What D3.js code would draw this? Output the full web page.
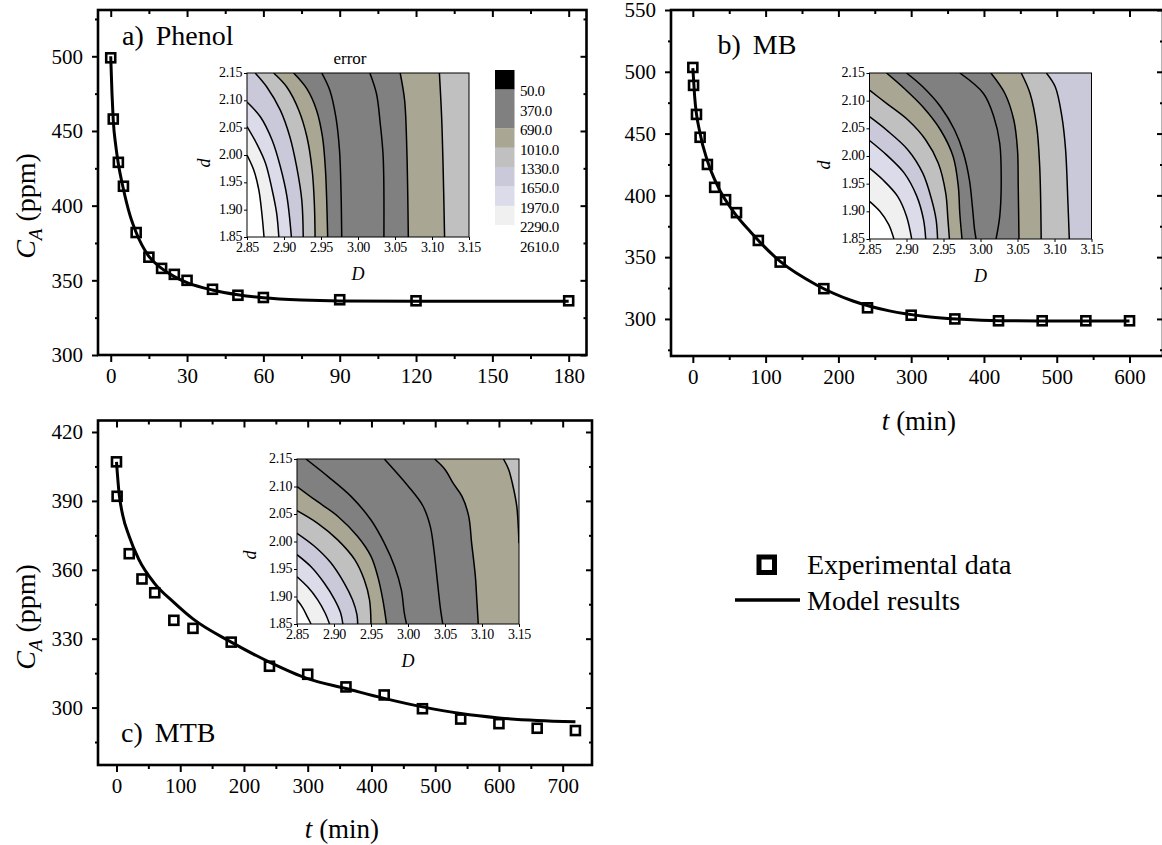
<!DOCTYPE html>
<html>
<head>
<meta charset="utf-8">
<script src="https://cdn.jsdelivr.net/npm/d3@7"></script>
<style>
  body { margin: 0; background: #fff; }
</style>
</head>
<body>
<svg id="vis" width="1162" height="845"></svg>
<script>
// a) Phenol
var phenolTime = [0, 1, 3, 5, 10, 15, 20, 25, 30, 40, 50, 60, 90, 120, 180];
var phenolConc = [499, 458, 429, 413, 382, 365.5, 358, 354, 350, 344, 340, 338.5, 337, 336.3, 336.3];
var phenolModelTime = [0, 0.5, 1, 2, 3, 5, 7.5, 10, 15, 20, 25, 30, 40, 50, 60, 75, 90, 120, 150, 180];
var phenolModelConc = [500, 475, 457, 440, 428, 411, 394, 382, 366, 358, 352.5, 348.5, 343.5, 340.3, 338.3, 336.8, 336.2, 336, 336, 336];
var phenolTimeRange = [-5, 187];
var phenolConcRange = [300, 531];
var phenolTimeTicks = [0, 30, 60, 90, 120, 150, 180];
var phenolTimeMinor = [15, 45, 75, 105, 135, 165];
var phenolConcTicks = [300, 350, 400, 450, 500];
var phenolConcMinor = [325, 375, 425, 475, 525];

// b) MB
var mbTime = [0, 1, 5, 10, 20, 30, 45, 60, 90, 120, 180, 240, 300, 360, 420, 480, 540, 600];
var mbConc = [503.5, 489, 465.5, 447, 425, 406.5, 396.5, 386, 363.5, 346, 324.5, 309, 303, 300, 298.5, 298.5, 298.5, 298.5];
var mbModelTime = [0, 2.5, 10, 20, 35, 55, 80, 120, 170, 220, 270, 320, 370, 420, 480, 540, 600];
var mbModelConc = [503, 480, 450, 428, 406.5, 387.5, 370, 346.5, 327.5, 314.5, 306.5, 302, 299.7, 298.6, 298.4, 298.4, 298.4];
var mbTimeRange = [-30, 646];
var mbConcRange = [270, 550];
var mbTimeTicks = [0, 100, 200, 300, 400, 500, 600];
var mbTimeMinor = [50, 150, 250, 350, 450, 550];
var mbConcTicks = [300, 350, 400, 450, 500, 550];
var mbConcMinor = [275, 325, 375, 425, 475, 525];

// c) MTB
var mtbTime = [0, 1, 20, 40, 60, 90, 120, 180, 240, 300, 360, 420, 480, 540, 600, 660, 720];
var mtbConc = [407, 392, 367, 356, 350, 338, 334.5, 328.5, 318, 314.5, 309, 305.5, 299.5, 295, 293, 291, 290];
var mtbModelTime = [0, 4, 10, 20, 35, 60, 90, 120, 180, 240, 300, 360, 420, 480, 540, 600, 660, 720];
var mtbModelConc = [407, 393.5, 383.5, 374.5, 364.5, 354, 345.8, 338.6, 328.5, 319.8, 312.6, 308.3, 304, 300.3, 297.4, 295.5, 294.4, 293.8];
var mtbTimeRange = [-29, 746];
var mtbConcRange = [275, 425];
var mtbTimeTicks = [0, 100, 200, 300, 400, 500, 600, 700];
var mtbTimeMinor = [50, 150, 250, 350, 450, 550, 650];
var mtbConcTicks = [300, 330, 360, 390, 420];
var mtbConcMinor = [285, 315, 345, 375, 405];

// Error maps over (D, d)
var bigDRange = [2.85, 3.15];
var smallDRange = [1.85, 2.15];
var bigDTicks = [2.85, 2.90, 2.95, 3.00, 3.05, 3.10, 3.15];
var smallDTicks = [1.85, 1.90, 1.95, 2.00, 2.05, 2.10, 2.15];
var errorLevels = [50, 370, 690, 1010, 1330, 1650, 1970, 2290, 2610];

// contour lines from left to right, each [D, d] points, and error band of each region between them
var phenolContours = [
  [[2.850, 2.000], [2.859, 1.973], [2.866, 1.936], [2.870, 1.894], [2.873, 1.850]],
  [[2.850, 2.052], [2.863, 2.021], [2.875, 1.985], [2.884, 1.936], [2.890, 1.894], [2.893, 1.850]],
  [[2.850, 2.097], [2.868, 2.070], [2.884, 2.027], [2.895, 1.979], [2.904, 1.924], [2.910, 1.850]],
  [[2.861, 2.150], [2.877, 2.124], [2.895, 2.082], [2.908, 2.033], [2.917, 1.979], [2.924, 1.918], [2.926, 1.850]],
  [[2.886, 2.150], [2.904, 2.124], [2.920, 2.082], [2.931, 2.033], [2.938, 1.973], [2.941, 1.912], [2.942, 1.850]],
  [[2.913, 2.150], [2.931, 2.121], [2.944, 2.082], [2.952, 2.033], [2.956, 1.973], [2.959, 1.850]],
  [[2.951, 2.150], [2.962, 2.118], [2.970, 2.070], [2.975, 2.009], [2.977, 1.936], [2.978, 1.850]],
  [[3.016, 2.150], [3.025, 2.112], [3.030, 2.058], [3.034, 1.997], [3.035, 1.850]],
  [[3.057, 2.150], [3.063, 2.100], [3.066, 2.009], [3.068, 1.850]],
  [[3.110, 2.150], [3.113, 2.070], [3.115, 1.979], [3.117, 1.850]]
];
var phenolRegions = [2290, 1970, 1650, 1330, 1010, 690, 370, 50, 370, 690, 1010];

var mbContours = [
  [[2.850, 1.918], [2.864, 1.900], [2.876, 1.876], [2.883, 1.850]],
  [[2.850, 1.978], [2.868, 1.957], [2.888, 1.927], [2.900, 1.891], [2.907, 1.850]],
  [[2.850, 2.028], [2.873, 2.002], [2.897, 1.969], [2.914, 1.927], [2.923, 1.885], [2.926, 1.850]],
  [[2.850, 2.071], [2.873, 2.047], [2.902, 2.011], [2.922, 1.969], [2.934, 1.921], [2.940, 1.885], [2.942, 1.850]],
  [[2.850, 2.119], [2.873, 2.095], [2.902, 2.065], [2.926, 2.029], [2.943, 1.987], [2.953, 1.933], [2.956, 1.885], [2.958, 1.850]],
  [[2.873, 2.150], [2.897, 2.122], [2.922, 2.089], [2.946, 2.047], [2.963, 1.999], [2.970, 1.945], [2.972, 1.897], [2.975, 1.850]],
  [[2.900, 2.150], [2.922, 2.125], [2.946, 2.089], [2.965, 2.047], [2.977, 2.005], [2.985, 1.957], [2.989, 1.909], [2.992, 1.867], [2.994, 1.850]],
  [[2.972, 2.150], [3.004, 2.113], [3.018, 2.071], [3.026, 2.023], [3.028, 1.951], [3.026, 1.891], [3.021, 1.850]],
  [[3.014, 2.150], [3.033, 2.113], [3.045, 2.065], [3.050, 2.011], [3.051, 1.945], [3.052, 1.850]],
  [[3.055, 2.150], [3.067, 2.113], [3.076, 2.053], [3.080, 1.981], [3.082, 1.850]],
  [[3.089, 2.150], [3.101, 2.125], [3.110, 2.071], [3.115, 2.011], [3.118, 1.921], [3.120, 1.850]]
];
var mbRegions = [2290, 1970, 1650, 1330, 1010, 690, 370, 50, 370, 690, 1010, 1330];

var mtbContours = [
  [[2.850, 1.894], [2.858, 1.879], [2.864, 1.863], [2.869, 1.850]],
  [[2.850, 1.936], [2.864, 1.918], [2.878, 1.894], [2.888, 1.870], [2.894, 1.850]],
  [[2.850, 1.976], [2.869, 1.954], [2.887, 1.924], [2.901, 1.894], [2.909, 1.870], [2.912, 1.850]],
  [[2.850, 2.015], [2.874, 1.991], [2.896, 1.961], [2.914, 1.924], [2.925, 1.894], [2.931, 1.867], [2.932, 1.850]],
  [[2.850, 2.056], [2.878, 2.033], [2.905, 2.003], [2.928, 1.967], [2.941, 1.930], [2.948, 1.894], [2.950, 1.850]],
  [[2.850, 2.100], [2.874, 2.076], [2.905, 2.046], [2.932, 2.009], [2.950, 1.973], [2.959, 1.937], [2.966, 1.894], [2.971, 1.850]],
  [[2.862, 2.150], [2.892, 2.118], [2.923, 2.082], [2.950, 2.039], [2.968, 1.997], [2.982, 1.954], [2.991, 1.912], [2.995, 1.870], [2.998, 1.850]],
  [[2.968, 2.150], [3.000, 2.101], [3.020, 2.065], [3.030, 2.028], [3.035, 1.985], [3.040, 1.924], [3.044, 1.876], [3.047, 1.850]],
  [[3.036, 2.150], [3.050, 2.131], [3.061, 2.106], [3.073, 2.082], [3.082, 2.046], [3.086, 1.997], [3.091, 1.937], [3.093, 1.894], [3.095, 1.850]],
  [[3.129, 2.150], [3.136, 2.131], [3.142, 2.100], [3.147, 2.064], [3.149, 2.027], [3.150, 1.997]]
];
var mtbRegions = [2290, 1970, 1650, 1330, 1010, 690, 370, 50, 370, 690, 1010];

(function () {

  'use strict';

  var SERIF = "'Liberation Serif', 'Times New Roman', serif";

  var svg = d3.select('#vis');

  // Error bands: <50 black, then greys, khaki, lavenders, white
  var color = d3.scaleThreshold()
    .domain(errorLevels.slice(0, -1))
    .range(['#000000', '#808080', '#808080', '#a9a794', '#c0c0c0',
      '#c9c9da', '#dcdbe9', '#f0f0f0', '#ffffff']);

  svg.append('rect')
    .attr('width', 1162)
    .attr('height', 845)
    .attr('fill', '#fff');

  drawPanel({
    left: 98, right: 586.5, top: 10, bottom: 355,
    xDomain: phenolTimeRange, yDomain: phenolConcRange,
    xTicks: phenolTimeTicks, xMinor: phenolTimeMinor,
    yTicks: phenolConcTicks, yMinor: phenolConcMinor,
    time: phenolTime, conc: phenolConc,
    modelTime: phenolModelTime, modelConc: phenolModelConc
  });

  drawPanel({
    left: 671, right: 1163, top: 10, bottom: 356,
    xDomain: mbTimeRange, yDomain: mbConcRange,
    xTicks: mbTimeTicks, xMinor: mbTimeMinor,
    yTicks: mbConcTicks, yMinor: mbConcMinor,
    time: mbTime, conc: mbConc,
    modelTime: mbModelTime, modelConc: mbModelConc
  });

  drawPanel({
    left: 98, right: 592, top: 420.5, bottom: 765,
    xDomain: mtbTimeRange, yDomain: mtbConcRange,
    xTicks: mtbTimeTicks, xMinor: mtbTimeMinor,
    yTicks: mtbConcTicks, yMinor: mtbConcMinor,
    time: mtbTime, conc: mtbConc,
    modelTime: mtbModelTime, modelConc: mtbModelConc
  });

  drawInset({ x: 247, y: 73, w: 222, h: 164, dx: 204, dy: 163 }, phenolContours, phenolRegions);
  drawInset({ x: 869.5, y: 73, w: 222, h: 166, dx: 824, dy: 165 }, mbContours, mbRegions);
  drawInset({ x: 297, y: 459, w: 222, h: 165, dx: 250, dy: 555 }, mtbContours, mtbRegions);

  drawColorbar();

  // Panel titles
  panelLabel(122, 45, 'a)', 'Phenol');
  panelLabel(717.5, 54, 'b)', 'MB');
  panelLabel(121, 742, 'c)', 'MTB');

  concTitle(25, 206);
  concTitle(25, 617);
  timeTitle(919, 430);
  timeTitle(342, 838);

  svg.append('text')
      .attr('x', 350)
      .attr('y', 64)
      .attr('text-anchor', 'middle')
      .attr('font-family', SERIF)
      .attr('font-size', 17)
      .text('error');

  drawLegend();

  function drawPanel(p) {

    var x, y, g, line;

    x = d3.scaleLinear()
      .domain(p.xDomain)
      .range([p.left, p.right]);

    y = d3.scaleLinear()
      .domain(p.yDomain)
      .range([p.bottom, p.top]);

    g = svg.append('g');

    axis(g, d3.axisBottom(x).tickValues(p.xTicks).tickSize(7).tickPadding(6), 0, p.bottom, 21);
    axis(g, d3.axisBottom(x).tickValues(p.xMinor).tickSize(4), 0, p.bottom);
    axis(g, d3.axisTop(x).tickValues(p.xTicks).tickSize(-7), 0, p.top);
    axis(g, d3.axisTop(x).tickValues(p.xMinor).tickSize(-4), 0, p.top);
    axis(g, d3.axisLeft(y).tickValues(p.yTicks).tickSize(6).tickPadding(9), p.left, 0, 21);
    axis(g, d3.axisLeft(y).tickValues(p.yMinor).tickSize(3), p.left, 0);
    axis(g, d3.axisRight(y).tickValues(p.yTicks).tickSize(-6), p.right, 0);
    axis(g, d3.axisRight(y).tickValues(p.yMinor).tickSize(-3), p.right, 0);

    g.append('rect')
        .attr('x', p.left)
        .attr('y', p.top)
        .attr('width', p.right - p.left)
        .attr('height', p.bottom - p.top)
        .attr('fill', 'none')
        .attr('stroke', '#000')
        .attr('stroke-width', 2.6);

    line = d3.line()
      .x(function (d) { return x(d[0]); })
      .y(function (d) { return y(d[1]); })
      .curve(d3.curveMonotoneX);

    g.append('path')
        .datum(d3.zip(p.modelTime, p.modelConc))
        .attr('d', line)
        .attr('fill', 'none')
        .attr('stroke', '#000')
        .attr('stroke-width', 3);

    g.selectAll('.pt')
        .data(d3.zip(p.time, p.conc))
        .enter()
      .append('rect')
        .attr('class', 'pt')
        .attr('x', function (d) { return x(d[0]) - 4.5; })
        .attr('y', function (d) { return y(d[1]) - 4.5; })
        .attr('width', 9)
        .attr('height', 9)
        .attr('fill', 'none')
        .attr('stroke', '#000')
        .attr('stroke-width', 2.6);
  }

  function axis(g, ax, tx, ty, fontSize) {

    var a = g.append('g')
        .attr('transform', 'translate(' + tx + ',' + ty + ')')
        .call(ax.tickSizeOuter(0));

    a.select('.domain').remove();
    a.selectAll('line')
        .attr('stroke', '#000')
        .attr('stroke-width', 2);

    if (fontSize) {
      a.attr('font-family', SERIF)
          .attr('font-size', fontSize);
      a.selectAll('text').attr('fill', '#000');
    } else {
      a.selectAll('text').remove();
    }
    return a;
  }

  function drawInset(box, contours, regions) {

    var x, y, g, clipId, line, a;

    x = d3.scaleLinear()
      .domain(bigDRange)
      .range([box.x, box.x + box.w]);

    y = d3.scaleLinear()
      .domain(smallDRange)
      .range([box.y + box.h, box.y]);

    clipId = 'clip' + Math.round(box.x);

    svg.append('clipPath')
        .attr('id', clipId)
      .append('rect')
        .attr('x', box.x)
        .attr('y', box.y)
        .attr('width', box.w)
        .attr('height', box.h);

    g = svg.append('g')
        .attr('clip-path', 'url(#' + clipId + ')');

    line = d3.line()
      .x(function (d) { return x(d[0]); })
      .y(function (d) { return y(d[1]); })
      .curve(d3.curveCatmullRom.alpha(0.5));

    // Rightmost band first, then paint every band left of each contour, right to left
    g.append('rect')
        .attr('x', box.x)
        .attr('y', box.y)
        .attr('width', box.w)
        .attr('height', box.h)
        .attr('fill', color(regions[regions.length - 1]));

    contours.slice().reverse().forEach(function (c, j) {

      var i = contours.length - 1 - j;

      g.append('path')
          .attr('d', leftRegion(c, line, x, y))
          .attr('fill', color(regions[i]));
    });

    g.selectAll('.contour')
        .data(contours)
        .enter()
      .append('path')
        .attr('class', 'contour')
        .attr('d', line)
        .attr('fill', 'none')
        .attr('stroke', '#000')
        .attr('stroke-width', 1.5);

    svg.append('rect')
        .attr('x', box.x)
        .attr('y', box.y)
        .attr('width', box.w)
        .attr('height', box.h)
        .attr('fill', 'none')
        .attr('stroke', '#000')
        .attr('stroke-width', 1);

    a = svg.append('g')
        .attr('transform', 'translate(0,' + (box.y + box.h) + ')')
        .call(d3.axisBottom(x).tickValues(bigDTicks).tickSize(3).tickPadding(2)
          .tickSizeOuter(0).tickFormat(d3.format('.2f')));
    styleInsetAxis(a);

    a = svg.append('g')
        .attr('transform', 'translate(' + box.x + ',0)')
        .call(d3.axisLeft(y).tickValues(smallDTicks).tickSize(3).tickPadding(2)
          .tickSizeOuter(0).tickFormat(d3.format('.2f')));
    styleInsetAxis(a);
    a.selectAll('text').attr('dy', '0.25em');

    svg.append('text')
        .attr('x', box.x + box.w / 2)
        .attr('y', box.y + box.h + 43)
        .attr('text-anchor', 'middle')
        .attr('font-family', SERIF)
        .attr('font-style', 'italic')
        .attr('font-size', 18)
        .text('D');

    svg.append('text')
        .attr('transform', 'translate(' + box.dx + ',' + box.dy + ') rotate(-90)')
        .attr('text-anchor', 'middle')
        .attr('dy', '0.35em')
        .attr('font-family', SERIF)
        .attr('font-style', 'italic')
        .attr('font-size', 18)
        .text('d');
  }

  function styleInsetAxis(a) {

    a.select('.domain').remove();
    a.attr('font-family', SERIF)
        .attr('font-size', 14);
    a.selectAll('line')
        .attr('stroke', '#000')
        .attr('stroke-width', 1);
    a.selectAll('text')
        .attr('fill', '#000')
        .attr('letter-spacing', -0.4);
  }

  // Polygon of the map lying left of a contour: contour, then back along the frame
  function leftRegion(c, line, x, y) {

    var d0 = bigDRange[0], d1 = bigDRange[1];
    var s0 = smallDRange[0], s1 = smallDRange[1];
    var corners = [[d0, s1], [d0, s0], [d1, s0], [d1, s1]];
    var path = line(c);
    var sa = perimeter(c[0]);
    var sb = perimeter(c[c.length - 1]);
    var k, corner;

    if (sa >= 3) { sa -= 4; }

    for (k = Math.ceil(sb) - 1; k > sa; k--) {
      corner = corners[(k + 4) % 4];
      path += 'L' + x(corner[0]) + ',' + y(corner[1]);
    }

    return path + 'Z';

    function perimeter(p) {

      var e = 1e-9;
      var span = d1 - d0;

      if (Math.abs(p[0] - d0) < e) { return (s1 - p[1]) / span; }
      if (Math.abs(p[1] - s0) < e) { return 1 + (p[0] - d0) / span; }
      if (Math.abs(p[0] - d1) < e) { return 2 + (p[1] - s0) / span; }
      return 3 + (d1 - p[0]) / span;
    }
  }

  function drawColorbar() {

    var bands = [0].concat(errorLevels.slice(0, -1));

    var y = d3.scaleLinear()
      .domain([0, bands.length])
      .range([70, 70 + bands.length * 19.4]);

    svg.selectAll('.band')
        .data(bands)
        .enter()
      .append('rect')
        .attr('class', 'band')
        .attr('x', 495)
        .attr('y', function (d, i) { return y(i); })
        .attr('width', 19.5)
        .attr('height', y(1) - y(0) + 0.3)
        .attr('fill', function (d) { return color(d); });

    svg.selectAll('.level')
        .data(errorLevels)
        .enter()
      .append('text')
        .attr('class', 'level')
        .attr('x', 520)
        .attr('y', function (d, i) { return y(i + 1) + 7; })
        .attr('font-family', SERIF)
        .attr('font-size', 15)
        .attr('letter-spacing', -0.4)
        .text(d3.format('.1f'));
  }

  function panelLabel(x, y, letter, name) {

    var t = svg.append('text')
        .attr('x', x)
        .attr('y', y)
        .attr('font-family', SERIF)
        .attr('font-size', 28);

    t.append('tspan').text(letter);
    t.append('tspan').attr('dx', 12).text(name);
  }

  function concTitle(x, y) {

    var t = svg.append('text')
        .attr('transform', 'translate(' + x + ',' + y + ') rotate(-90)')
        .attr('text-anchor', 'middle')
        .attr('dy', '0.35em')
        .attr('font-family', SERIF)
        .attr('font-size', 28);

    t.append('tspan').attr('font-style', 'italic').text('C');
    t.append('tspan').attr('font-style', 'italic').attr('font-size', 19).attr('dy', 7).text('A');
    t.append('tspan').attr('dy', -7).text(' (ppm)');
  }

  function timeTitle(x, y) {

    var t = svg.append('text')
        .attr('x', x)
        .attr('y', y)
        .attr('text-anchor', 'middle')
        .attr('font-family', SERIF)
        .attr('font-size', 27);

    t.append('tspan').attr('font-style', 'italic').text('t');
    t.append('tspan').text(' (min)');
  }

  function drawLegend() {

    svg.append('rect')
        .attr('x', 759)
        .attr('y', 557)
        .attr('width', 15.5)
        .attr('height', 15.5)
        .attr('fill', 'none')
        .attr('stroke', '#000')
        .attr('stroke-width', 5);

    svg.append('line')
        .attr('x1', 735)
        .attr('x2', 800)
        .attr('y1', 600)
        .attr('y2', 600)
        .attr('stroke', '#000')
        .attr('stroke-width', 3.5);

    svg.append('text')
        .attr('x', 807)
        .attr('y', 574)
        .attr('font-family', SERIF)
        .attr('font-size', 28)
        .text('Experimental data');

    svg.append('text')
        .attr('x', 807)
        .attr('y', 610)
        .attr('font-family', SERIF)
        .attr('font-size', 28)
        .text('Model results');
  }
})();
</script>
</body>
</html>
